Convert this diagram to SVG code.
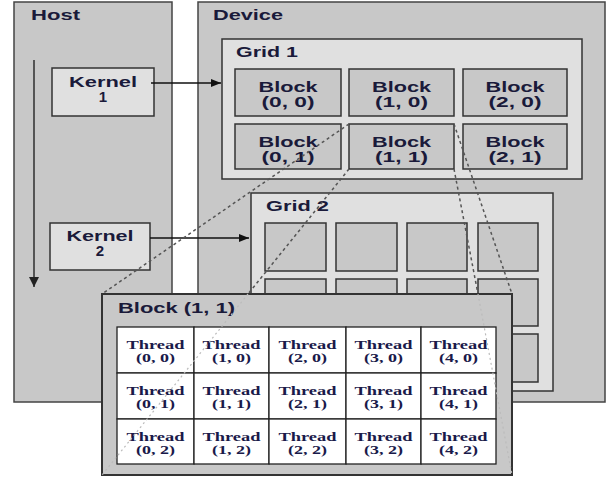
<svg xmlns="http://www.w3.org/2000/svg" width="609" height="478" viewBox="0 0 609 478">
<defs>
<marker id="ah" markerWidth="10" markerHeight="8" refX="10" refY="4" orient="auto" markerUnits="userSpaceOnUse"><path d="M0,0 L10,4 L0,8 Z" fill="#111"/></marker>
<marker id="ahg" markerWidth="10" markerHeight="10" refX="5" refY="10" orient="0" markerUnits="userSpaceOnUse"><path d="M0,0 L10,0 L5,10 Z" fill="#222"/></marker>
<style>
.outer{fill:#c8c8c8;stroke:#444;stroke-width:1.5}
.grid{fill:#e0e0e0;stroke:#333;stroke-width:1.5}
.blk{fill:#c8c8c8;stroke:#333;stroke-width:1.5}
.kern{fill:#e0e0e0;stroke:#333;stroke-width:1.5}
.cell{fill:#fff;stroke:#222;stroke-width:1.3}
.t{font-family:"Liberation Sans",Arial,sans-serif;font-weight:bold;font-size:15px;fill:#1a1a3a}
.c{text-anchor:middle}
.th{font-family:"Liberation Serif","Times New Roman",serif;font-weight:bold;font-size:13.5px;fill:#1a1a4a;text-anchor:middle}
.tc{font-family:"Liberation Serif","Times New Roman",serif;font-weight:bold;font-size:12px;fill:#1a1a4a;text-anchor:middle}
.arr{stroke:#111;stroke-width:1.5;fill:none}
.dash{stroke:#555;stroke-width:1.5;stroke-dasharray:3 3;fill:none}
.faint{stroke:#bbb;stroke-width:1.2;stroke-dasharray:2 3;fill:none}
</style>
</defs>
<rect width="609" height="478" fill="#fff"/>

<g id="host">
<rect class="outer" x="14" y="2" width="158" height="400"/>
<text class="t" x="31" y="20" textLength="49" lengthAdjust="spacingAndGlyphs">Host</text>
</g>

<g id="device">
<rect class="outer" x="198" y="2" width="407" height="400"/>
<text class="t" x="213" y="20" textLength="70" lengthAdjust="spacingAndGlyphs">Device</text>
</g>

<g id="grid1">
<rect class="grid" x="222" y="39" width="360" height="140"/>
<text class="t" x="236" y="57" textLength="62" lengthAdjust="spacingAndGlyphs">Grid 1</text>
</g>
<g id="block00">
<rect class="blk" x="235" y="69" width="106" height="47"/>
<text class="t c" x="288" y="92" textLength="59" lengthAdjust="spacingAndGlyphs">Block</text>
<text class="t c" x="288" y="107" textLength="53" lengthAdjust="spacingAndGlyphs">(0, 0)</text>
</g>
<g id="block10">
<rect class="blk" x="349" y="69" width="105" height="47"/>
<text class="t c" x="401.5" y="92" textLength="59" lengthAdjust="spacingAndGlyphs">Block</text>
<text class="t c" x="401.5" y="107" textLength="53" lengthAdjust="spacingAndGlyphs">(1, 0)</text>
</g>
<g id="block20">
<rect class="blk" x="463" y="69" width="104" height="47"/>
<text class="t c" x="515" y="92" textLength="59" lengthAdjust="spacingAndGlyphs">Block</text>
<text class="t c" x="515" y="107" textLength="53" lengthAdjust="spacingAndGlyphs">(2, 0)</text>
</g>
<g id="block01">
<rect class="blk" x="235" y="124" width="106" height="45"/>
<text class="t c" x="288" y="147" textLength="59" lengthAdjust="spacingAndGlyphs">Block</text>
<text class="t c" x="288" y="162" textLength="53" lengthAdjust="spacingAndGlyphs">(0, 1)</text>
</g>
<g id="block11">
<rect class="blk" x="349" y="124" width="105" height="45"/>
<text class="t c" x="401.5" y="147" textLength="59" lengthAdjust="spacingAndGlyphs">Block</text>
<text class="t c" x="401.5" y="162" textLength="53" lengthAdjust="spacingAndGlyphs">(1, 1)</text>
</g>
<g id="block21">
<rect class="blk" x="463" y="124" width="104" height="45"/>
<text class="t c" x="515" y="147" textLength="59" lengthAdjust="spacingAndGlyphs">Block</text>
<text class="t c" x="515" y="162" textLength="53" lengthAdjust="spacingAndGlyphs">(2, 1)</text>
</g>

<g id="grid2">
<rect class="grid" x="251" y="193" width="302" height="198"/>
<text class="t" x="266" y="211" textLength="63" lengthAdjust="spacingAndGlyphs">Grid 2</text>
<rect class="blk" x="265" y="223" width="61" height="48"/>
<rect class="blk" x="336" y="223" width="61" height="48"/>
<rect class="blk" x="407" y="223" width="60" height="48"/>
<rect class="blk" x="478" y="223" width="60" height="48"/>
<rect class="blk" x="265" y="279" width="61" height="47"/>
<rect class="blk" x="336" y="279" width="61" height="47"/>
<rect class="blk" x="407" y="279" width="60" height="47"/>
<rect class="blk" x="478" y="279" width="60" height="47"/>
<rect class="blk" x="265" y="334" width="61" height="48"/>
<rect class="blk" x="336" y="334" width="61" height="48"/>
<rect class="blk" x="407" y="334" width="60" height="48"/>
<rect class="blk" x="478" y="334" width="60" height="48"/>
</g>

<g id="kernel1">
<rect class="kern" x="52" y="68" width="102" height="48"/>
<text class="t c" x="103" y="87" textLength="68" lengthAdjust="spacingAndGlyphs">Kernel</text>
<text class="t c" x="103" y="102">1</text>
</g>
<g id="kernel2">
<rect class="kern" x="50" y="223" width="100" height="47"/>
<text class="t c" x="100" y="241" textLength="67" lengthAdjust="spacingAndGlyphs">Kernel</text>
<text class="t c" x="100" y="256">2</text>
</g>

<g id="connectors">
<line x1="34" y1="60" x2="34" y2="287" stroke="#555" stroke-width="2" marker-end="url(#ahg)"/>
<line class="arr" x1="151" y1="83" x2="221" y2="83" marker-end="url(#ah)"/>
<line class="arr" x1="150" y1="238" x2="249" y2="238" marker-end="url(#ah)"/>
<line class="dash" x1="349" y1="124" x2="102" y2="294"/>
<line class="dash" x1="349" y1="169" x2="248" y2="294"/>
<line class="dash" x1="454" y1="124" x2="512" y2="294"/>
<line class="dash" x1="454" y1="169" x2="478" y2="294"/>
</g>

<g id="block11-detail">
<rect x="102" y="294" width="410" height="181" fill="#c8c8c8" stroke="#333" stroke-width="2"/>
<text class="t" x="118" y="313" textLength="117" lengthAdjust="spacingAndGlyphs">Block (1, 1)</text>
<rect class="cell" x="117" y="327" width="77" height="46"/>
<rect class="cell" x="194" y="327" width="75" height="46"/>
<rect class="cell" x="269" y="327" width="77" height="46"/>
<rect class="cell" x="346" y="327" width="75" height="46"/>
<rect class="cell" x="421" y="327" width="75" height="46"/>
<rect class="cell" x="117" y="373" width="77" height="46"/>
<rect class="cell" x="194" y="373" width="75" height="46"/>
<rect class="cell" x="269" y="373" width="77" height="46"/>
<rect class="cell" x="346" y="373" width="75" height="46"/>
<rect class="cell" x="421" y="373" width="75" height="46"/>
<rect class="cell" x="117" y="419" width="77" height="45"/>
<rect class="cell" x="194" y="419" width="75" height="45"/>
<rect class="cell" x="269" y="419" width="77" height="45"/>
<rect class="cell" x="346" y="419" width="75" height="45"/>
<rect class="cell" x="421" y="419" width="75" height="45"/>
<g>
<text class="th" x="155.5" y="349" textLength="58" lengthAdjust="spacingAndGlyphs">Thread</text><text class="tc" x="155.5" y="362" textLength="39" lengthAdjust="spacingAndGlyphs">(0, 0)</text>
<text class="th" x="231.5" y="349" textLength="58" lengthAdjust="spacingAndGlyphs">Thread</text><text class="tc" x="231.5" y="362" textLength="39" lengthAdjust="spacingAndGlyphs">(1, 0)</text>
<text class="th" x="307.5" y="349" textLength="58" lengthAdjust="spacingAndGlyphs">Thread</text><text class="tc" x="307.5" y="362" textLength="39" lengthAdjust="spacingAndGlyphs">(2, 0)</text>
<text class="th" x="383.5" y="349" textLength="58" lengthAdjust="spacingAndGlyphs">Thread</text><text class="tc" x="383.5" y="362" textLength="39" lengthAdjust="spacingAndGlyphs">(3, 0)</text>
<text class="th" x="458.5" y="349" textLength="58" lengthAdjust="spacingAndGlyphs">Thread</text><text class="tc" x="458.5" y="362" textLength="39" lengthAdjust="spacingAndGlyphs">(4, 0)</text>
<text class="th" x="155.5" y="395" textLength="58" lengthAdjust="spacingAndGlyphs">Thread</text><text class="tc" x="155.5" y="408" textLength="39" lengthAdjust="spacingAndGlyphs">(0, 1)</text>
<text class="th" x="231.5" y="395" textLength="58" lengthAdjust="spacingAndGlyphs">Thread</text><text class="tc" x="231.5" y="408" textLength="39" lengthAdjust="spacingAndGlyphs">(1, 1)</text>
<text class="th" x="307.5" y="395" textLength="58" lengthAdjust="spacingAndGlyphs">Thread</text><text class="tc" x="307.5" y="408" textLength="39" lengthAdjust="spacingAndGlyphs">(2, 1)</text>
<text class="th" x="383.5" y="395" textLength="58" lengthAdjust="spacingAndGlyphs">Thread</text><text class="tc" x="383.5" y="408" textLength="39" lengthAdjust="spacingAndGlyphs">(3, 1)</text>
<text class="th" x="458.5" y="395" textLength="58" lengthAdjust="spacingAndGlyphs">Thread</text><text class="tc" x="458.5" y="408" textLength="39" lengthAdjust="spacingAndGlyphs">(4, 1)</text>
<text class="th" x="155.5" y="441" textLength="58" lengthAdjust="spacingAndGlyphs">Thread</text><text class="tc" x="155.5" y="454" textLength="39" lengthAdjust="spacingAndGlyphs">(0, 2)</text>
<text class="th" x="231.5" y="441" textLength="58" lengthAdjust="spacingAndGlyphs">Thread</text><text class="tc" x="231.5" y="454" textLength="39" lengthAdjust="spacingAndGlyphs">(1, 2)</text>
<text class="th" x="307.5" y="441" textLength="58" lengthAdjust="spacingAndGlyphs">Thread</text><text class="tc" x="307.5" y="454" textLength="39" lengthAdjust="spacingAndGlyphs">(2, 2)</text>
<text class="th" x="383.5" y="441" textLength="58" lengthAdjust="spacingAndGlyphs">Thread</text><text class="tc" x="383.5" y="454" textLength="39" lengthAdjust="spacingAndGlyphs">(3, 2)</text>
<text class="th" x="458.5" y="441" textLength="58" lengthAdjust="spacingAndGlyphs">Thread</text><text class="tc" x="458.5" y="454" textLength="39" lengthAdjust="spacingAndGlyphs">(4, 2)</text>
</g>
</g>

<g id="connectors-faint">
<line class="faint" x1="248" y1="294" x2="102" y2="475"/>
<line class="faint" x1="478" y1="294" x2="512" y2="475"/>
</g>
</svg>
